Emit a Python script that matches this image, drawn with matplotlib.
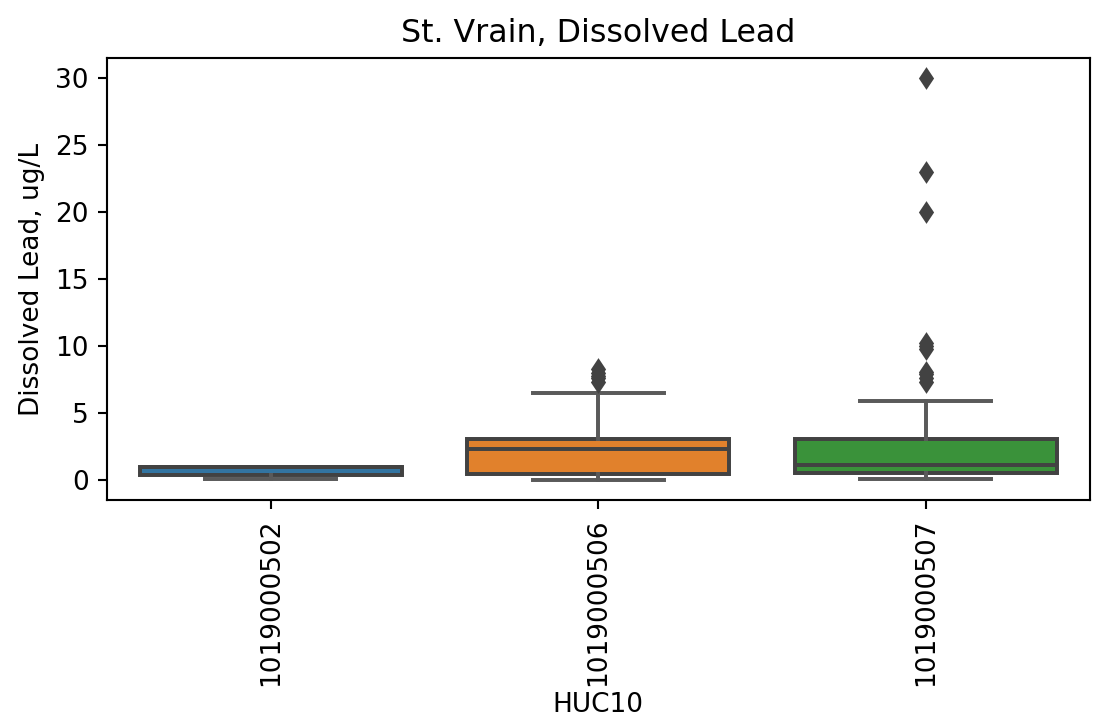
import matplotlib
matplotlib.use("Agg")
import matplotlib.pyplot as plt

# Summary statistics per HUC10 basin (ug/L)
huc10 = ["1019000502", "1019000506", "1019000507"]
whisker_low = [0.05, 0.0, 0.05]
q1 = [0.4, 0.45, 0.5]
median = [1.0, 2.3, 1.1]
q3 = [1.0, 3.1, 3.1]
whisker_high = [1.0, 6.5, 5.9]
outliers = [
    [],
    [7.3, 7.6, 7.8, 8.0, 8.3],
    [7.3, 7.6, 7.9, 8.1, 9.8, 10.0, 10.2, 20.0, 23.0, 30.0],
]
box_colors = ["#3274a1", "#e1812c", "#3a923a"]
edge_gray = "#424242"
whisker_gray = "#5a5a5a"

dpi = 190
fig = plt.figure(figsize=(1105 / dpi, 725 / dpi), dpi=dpi)
ax = fig.add_axes([0.097, 0.31, 0.889, 0.61])

stats = []
for i, name in enumerate(huc10):
    stats.append(dict(label=name, whislo=whisker_low[i], q1=q1[i], med=median[i],
                      q3=q3[i], whishi=whisker_high[i], fliers=outliers[i]))

lw = 1.5
parts = ax.bxp(
    stats,
    positions=range(len(huc10)),
    widths=0.8,
    patch_artist=True,
    showfliers=True,
    boxprops=dict(edgecolor=edge_gray, linewidth=lw),
    medianprops=dict(color=edge_gray, linewidth=lw),
    whiskerprops=dict(color=whisker_gray, linewidth=lw),
    capprops=dict(color=whisker_gray, linewidth=lw),
    flierprops=dict(marker="d", markersize=5, markerfacecolor=edge_gray,
                    markeredgecolor=edge_gray, linestyle="none"),
)
for patch, c in zip(parts["boxes"], box_colors):
    patch.set_facecolor(c)

ax.set_xlim(-0.5, len(huc10) - 0.5)
ax.set_ylim(-1.5, 31.5)
ax.set_yticks([0, 5, 10, 15, 20, 25, 30])
ax.set_xticks(range(len(huc10)))
ax.set_xticklabels(huc10, rotation=90)
ax.set_xlabel("HUC10", labelpad=2)
ax.set_ylabel("Dissolved Lead, ug/L")
ax.set_title("St. Vrain, Dissolved Lead")

fig.savefig("out.png", dpi=dpi)
